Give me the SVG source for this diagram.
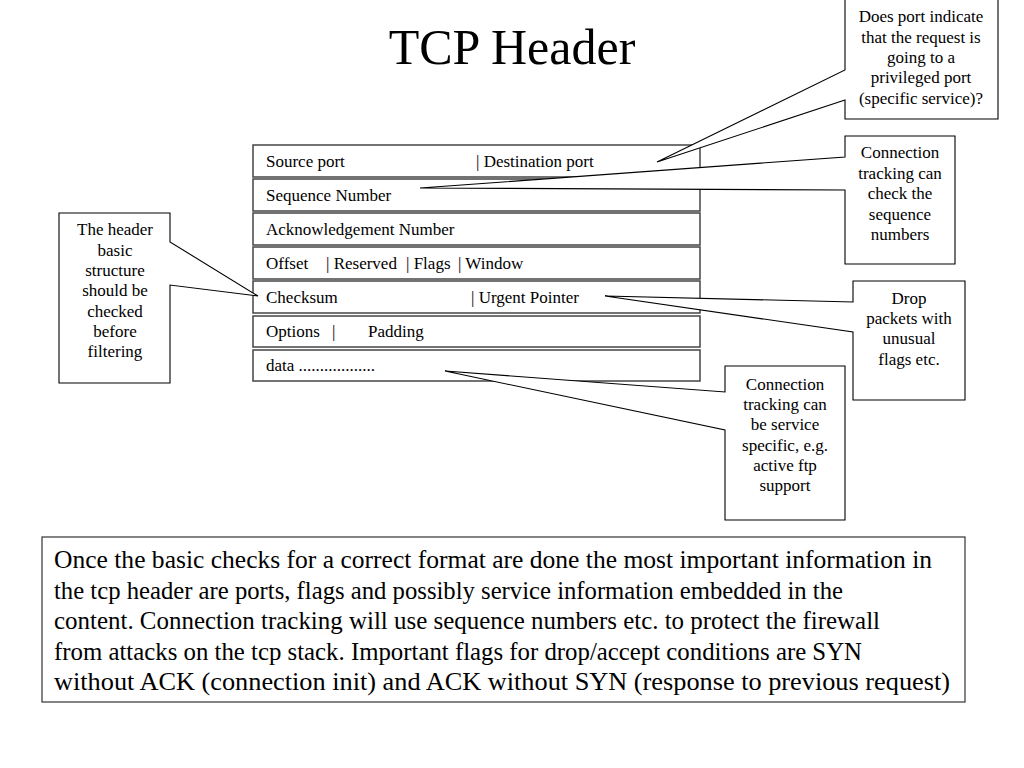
<svg xmlns="http://www.w3.org/2000/svg" width="1024" height="768" viewBox="0 0 1024 768">
<style>
text{font-family:"Liberation Serif","Times New Roman",serif;fill:#000}
.title{font-size:50px;text-anchor:middle}
.row{fill:#fff;stroke:#444;stroke-width:1.5}
.rt{font-size:17px}
.co{fill:#fff;stroke:#000;stroke-width:1.1}
.ct{font-size:17px;text-anchor:middle}
.para{font-size:25px}
</style>
<rect width="1024" height="768" fill="#fff"/>
<text class="title" x="512" y="64">TCP Header</text>

<g id="header">
  <g id="row-ports"><rect class="row" x="253" y="145" width="447" height="32"/><text class="rt" x="266" y="167">Source port</text><text class="rt" x="476" y="167">| Destination port</text></g>
  <g id="row-seq"><rect class="row" x="253" y="179" width="447" height="32"/><text class="rt" x="266" y="201">Sequence Number</text></g>
  <g id="row-ack"><rect class="row" x="253" y="213" width="447" height="32"/><text class="rt" x="266" y="235">Acknowledgement Number</text></g>
  <g id="row-offset"><rect class="row" x="253" y="247" width="447" height="32"/><text class="rt" x="266" y="269">Offset</text><text class="rt" x="326" y="269">| Reserved</text><text class="rt" x="406" y="269">| Flags</text><text class="rt" x="458" y="269">| Window</text></g>
  <g id="row-checksum"><rect class="row" x="253" y="281" width="447" height="32"/><text class="rt" x="266" y="303">Checksum</text><text class="rt" x="471" y="303">| Urgent Pointer</text></g>
  <g id="row-options"><rect class="row" x="253" y="316" width="447" height="31"/><text class="rt" x="266" y="337">Options</text><text class="rt" x="332" y="337">|</text><text class="rt" x="368" y="337">Padding</text></g>
  <g id="row-data"><rect class="row" x="253" y="350" width="447" height="31"/><text class="rt" x="266" y="371">data ..................</text></g>
</g>

<g id="connectors">
  <path id="callout-port" class="co" d="M845,-1 H998 V119 H845 V100 L657,162 L845,70 Z"/>
  <path id="callout-seq" class="co" d="M845,136 H955 V264 H845 V190 L420,188 L845,157 Z"/>
  <path id="callout-flags" class="co" d="M853,281 H965 V400 H853 V332 L605,296 L853,302 Z"/>
  <path id="callout-data" class="co" d="M725,366 H845 V520 H725 V430 L445,371 L725,392 Z"/>
  <path id="callout-struct" class="co" d="M59,213 H170 V242 L258,296 L170,285 V383 H59 Z"/>
</g>

<g id="note-port">
  <text class="ct" x="921" y="22">Does port indicate</text>
  <text class="ct" x="921" y="42.5">that the request is</text>
  <text class="ct" x="921" y="63">going to a</text>
  <text class="ct" x="921" y="83">privileged port</text>
  <text class="ct" x="921" y="103.5">(specific service)?</text>
</g>
<g id="note-seq">
  <text class="ct" x="900" y="158">Connection</text>
  <text class="ct" x="900" y="178.5">tracking can</text>
  <text class="ct" x="900" y="199">check the</text>
  <text class="ct" x="900" y="219.5">sequence</text>
  <text class="ct" x="900" y="240">numbers</text>
</g>
<g id="note-flags">
  <text class="ct" x="909" y="303.5">Drop</text>
  <text class="ct" x="909" y="324">packets with</text>
  <text class="ct" x="909" y="344">unusual</text>
  <text class="ct" x="909" y="364.5">flags etc.</text>
</g>
<g id="note-data">
  <text class="ct" x="785" y="389.5">Connection</text>
  <text class="ct" x="785" y="410">tracking can</text>
  <text class="ct" x="785" y="430">be service</text>
  <text class="ct" x="785" y="450.5">specific, e.g.</text>
  <text class="ct" x="785" y="471">active ftp</text>
  <text class="ct" x="785" y="491">support</text>
</g>
<g id="note-struct">
  <text class="ct" x="115" y="235">The header</text>
  <text class="ct" x="115" y="255.5">basic</text>
  <text class="ct" x="115" y="276">structure</text>
  <text class="ct" x="115" y="296">should be</text>
  <text class="ct" x="115" y="316.5">checked</text>
  <text class="ct" x="115" y="337">before</text>
  <text class="ct" x="115" y="357">filtering</text>
</g>

<g id="summary">
  <rect x="42" y="537" width="923" height="165" fill="#fff" stroke="#333" stroke-width="1.2"/>
  <text class="para" x="54" y="568" textLength="878" lengthAdjust="spacingAndGlyphs">Once the basic checks for a correct format are done the most important information in</text>
  <text class="para" x="54" y="598.5" textLength="789" lengthAdjust="spacingAndGlyphs">the tcp header are ports, flags and possibly service information embedded in the</text>
  <text class="para" x="54" y="629" textLength="826" lengthAdjust="spacingAndGlyphs">content. Connection tracking will use sequence numbers etc. to protect the firewall</text>
  <text class="para" x="54" y="659.5" textLength="808" lengthAdjust="spacingAndGlyphs">from attacks on the tcp stack. Important flags for drop/accept conditions are SYN</text>
  <text class="para" x="54" y="690" textLength="896" lengthAdjust="spacingAndGlyphs">without ACK (connection init) and ACK without SYN (response to previous request)</text>
</g>
</svg>
